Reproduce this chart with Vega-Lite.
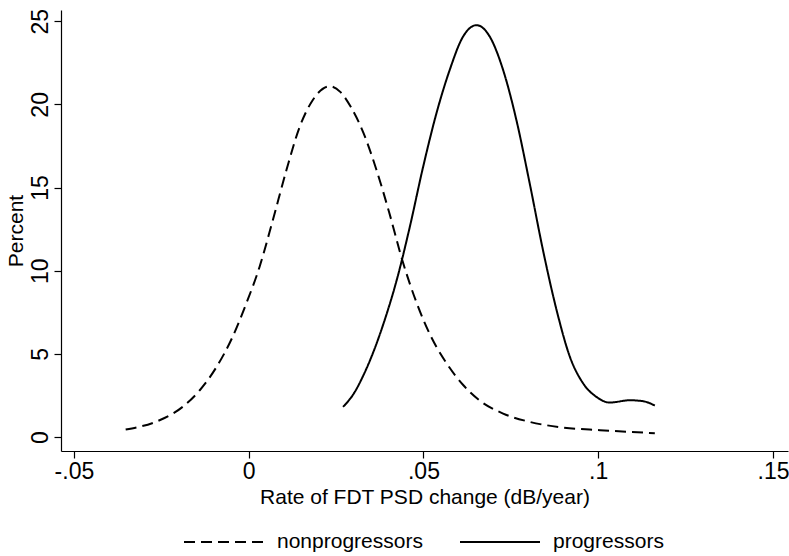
{
  "$schema": "https://vega.github.io/schema/vega-lite/v6.json",
  "width": 727,
  "height": 441,
  "autosize": {"type": "none"},
  "padding": {"left": 61, "top": 10, "right": 1, "bottom": 105},
  "background": "white",
  "config": {
    "view": {"stroke": null},
    "font": "Liberation Sans",
    "axis": {
      "grid": false,
      "domainColor": "black",
      "domainWidth": 1.2,
      "tickColor": "black",
      "tickWidth": 1.2,
      "tickSize": 7,
      "labelColor": "black",
      "titleColor": "black",
      "labelFont": "Liberation Sans",
      "titleFont": "Liberation Sans",
      "labelFontSize": 23,
      "titleFontSize": 21,
      "titleFontWeight": "normal"
    },
    "legend": {
      "labelFont": "Liberation Sans",
      "labelFontSize": 21,
      "labelColor": "black"
    }
  },
  "data": {
    "values": [
      {"x": -0.0352, "y": 0.46, "group": "nonprogressors"},
      {"x": -0.0255, "y": 1.02, "group": "nonprogressors"},
      {"x": -0.0189, "y": 1.82, "group": "nonprogressors"},
      {"x": -0.0140, "y": 2.82, "group": "nonprogressors"},
      {"x": -0.0092, "y": 4.22, "group": "nonprogressors"},
      {"x": -0.0046, "y": 6.03, "group": "nonprogressors"},
      {"x": -0.0007, "y": 8.03, "group": "nonprogressors"},
      {"x": 0.0031, "y": 10.23, "group": "nonprogressors"},
      {"x": 0.0069, "y": 13.04, "group": "nonprogressors"},
      {"x": 0.0108, "y": 16.05, "group": "nonprogressors"},
      {"x": 0.0146, "y": 18.65, "group": "nonprogressors"},
      {"x": 0.0183, "y": 20.25, "group": "nonprogressors"},
      {"x": 0.0232, "y": 21.09, "group": "nonprogressors"},
      {"x": 0.0262, "y": 20.75, "group": "nonprogressors"},
      {"x": 0.0292, "y": 19.85, "group": "nonprogressors"},
      {"x": 0.0328, "y": 18.30, "group": "nonprogressors"},
      {"x": 0.0365, "y": 16.10, "group": "nonprogressors"},
      {"x": 0.0402, "y": 13.50, "group": "nonprogressors"},
      {"x": 0.0440, "y": 10.60, "group": "nonprogressors"},
      {"x": 0.0480, "y": 8.10, "group": "nonprogressors"},
      {"x": 0.0518, "y": 6.20, "group": "nonprogressors"},
      {"x": 0.0566, "y": 4.45, "group": "nonprogressors"},
      {"x": 0.0613, "y": 3.15, "group": "nonprogressors"},
      {"x": 0.0661, "y": 2.20, "group": "nonprogressors"},
      {"x": 0.0728, "y": 1.42, "group": "nonprogressors"},
      {"x": 0.0804, "y": 0.92, "group": "nonprogressors"},
      {"x": 0.0900, "y": 0.58, "group": "nonprogressors"},
      {"x": 0.1005, "y": 0.42, "group": "nonprogressors"},
      {"x": 0.1162, "y": 0.24, "group": "nonprogressors"},
      {"x": 0.0270, "y": 1.82, "group": "progressors"},
      {"x": 0.0300, "y": 2.60, "group": "progressors"},
      {"x": 0.0330, "y": 3.80, "group": "progressors"},
      {"x": 0.0360, "y": 5.30, "group": "progressors"},
      {"x": 0.0390, "y": 7.10, "group": "progressors"},
      {"x": 0.0423, "y": 9.40, "group": "progressors"},
      {"x": 0.0461, "y": 12.64, "group": "progressors"},
      {"x": 0.0499, "y": 16.24, "group": "progressors"},
      {"x": 0.0537, "y": 19.45, "group": "progressors"},
      {"x": 0.0575, "y": 22.06, "group": "progressors"},
      {"x": 0.0613, "y": 24.06, "group": "progressors"},
      {"x": 0.0652, "y": 24.76, "group": "progressors"},
      {"x": 0.0690, "y": 24.06, "group": "progressors"},
      {"x": 0.0728, "y": 22.06, "group": "progressors"},
      {"x": 0.0766, "y": 19.05, "group": "progressors"},
      {"x": 0.0804, "y": 15.25, "group": "progressors"},
      {"x": 0.0842, "y": 11.24, "group": "progressors"},
      {"x": 0.0881, "y": 7.63, "group": "progressors"},
      {"x": 0.0919, "y": 4.83, "group": "progressors"},
      {"x": 0.0957, "y": 3.23, "group": "progressors"},
      {"x": 0.0995, "y": 2.42, "group": "progressors"},
      {"x": 0.1033, "y": 2.08, "group": "progressors"},
      {"x": 0.1090, "y": 2.22, "group": "progressors"},
      {"x": 0.1129, "y": 2.16, "group": "progressors"},
      {"x": 0.1162, "y": 1.90, "group": "progressors"}
    ]
  },
  "mark": {"type": "line", "color": "black", "strokeWidth": 2, "interpolate": "monotone"},
  "encoding": {
    "x": {
      "field": "x",
      "type": "quantitative",
      "scale": {"domain": [-0.0537, 0.1543], "nice": false, "zero": false},
      "axis": {
        "title": "Rate of FDT PSD change (dB/year)",
        "values": [-0.05, 0, 0.05, 0.1, 0.15],
        "labelExpr": "datum.value == 0 ? '0' : replace(toString(datum.value), '0.', '.')",
        "labelPadding": 2,
        "titlePadding": 3,
        "labelFlush": false
      }
    },
    "y": {
      "field": "y",
      "type": "quantitative",
      "scale": {"domain": [-0.83, 25.67], "nice": false, "zero": false},
      "axis": {
        "title": "Percent",
        "values": [0, 5, 10, 15, 20, 25],
        "labelAngle": 270,
        "labelAlign": "center",
        "labelBaseline": "bottom",
        "labelPadding": 2,
        "titlePadding": 3
      }
    },
    "strokeDash": {
      "field": "group",
      "type": "nominal",
      "scale": {"domain": ["nonprogressors", "progressors"], "range": [[11, 6], [1, 0]]},
      "legend": {
        "title": null,
        "orient": "none",
        "direction": "horizontal",
        "legendX": 122,
        "legendY": 491,
        "symbolType": "stroke",
        "symbolSize": 6400,
        "symbolStrokeWidth": 2,
        "symbolStrokeColor": "black",
        "labelOffset": 12,
        "columnPadding": 33,
        "padding": 0
      }
    }
  }
}
